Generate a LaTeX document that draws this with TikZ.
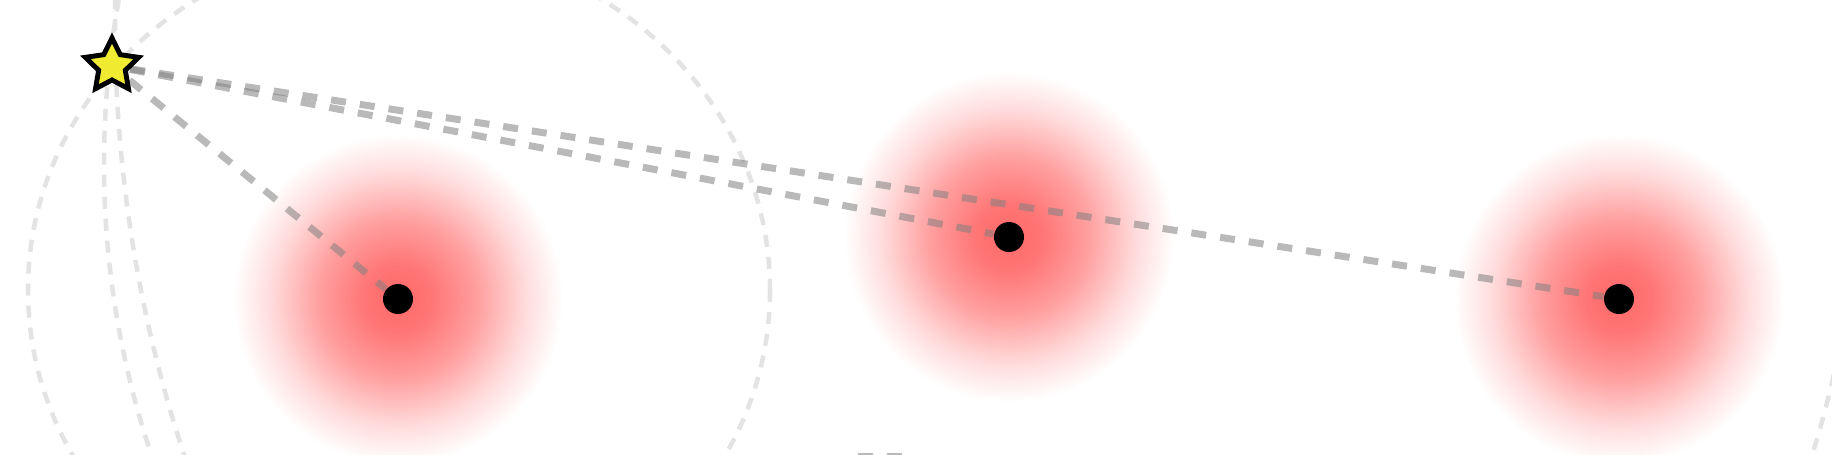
\documentclass[tikz,border=0pt]{standalone}
\usetikzlibrary{shapes.geometric, backgrounds}
\definecolor{glowred}{RGB}{255,105,105}
\definecolor{staryellow}{RGB}{240,234,48}
\pgfdeclareradialshading{redglow}{\pgfpointorigin}{color(0bp)=(glowred); color(5bp)=(glowred!92!white); color(12bp)=(glowred!64!white); color(19bp)=(glowred!25!white); color(25bp)=(white); color(50bp)=(white)}
\tikzset{
  anchorpt/.style={circle, fill=black, inner sep=0pt, minimum size=0.3cm},
  targetstar/.style={star, star points=5, star point ratio=2.0, draw=black, line width=1.4pt, fill=staryellow, inner sep=0pt, minimum size=0.56cm},
  rangeline/.style={draw=black!50, opacity=0.55, line width=0.07cm, dash pattern=on 0.15cm off 0.14cm},
  ring/.style={draw=black!11, line width=0.045cm, dash pattern=on 0.12cm off 0.1cm},
  glow/.style={shading=redglow}
}
\begin{document}
\begin{tikzpicture}[x=0.01cm, y=-0.01cm]
  \useasboundingbox (0,0) rectangle (1832,454);
  \node[anchorpt] (a1) at (398,299) {};
  \node[anchorpt] (a2) at (1009,237) {};
  \node[anchorpt] (a3) at (1619,299) {};
  \node[targetstar] (tx) at (112,66) {};
  \begin{pgfonlayer}{background}
    \foreach \n in {a1, a2, a3}
      \shade[glow] (\n) circle (165);
    \draw[ring] (399,290) ellipse (371 and 347);
    \draw[ring] (1015,164) circle (911);
    \draw[ring] (1498,22) circle (1383);
    \draw[ring] (868,156) circle (990);
    \draw[rangeline] (tx) -- (a1);
    \draw[rangeline] (tx) -- (a2);
    \draw[rangeline] (tx) -- (a3);
    \draw[rangeline] (858,456) -- (905,456);
  \end{pgfonlayer}
\end{tikzpicture}
\end{document}
